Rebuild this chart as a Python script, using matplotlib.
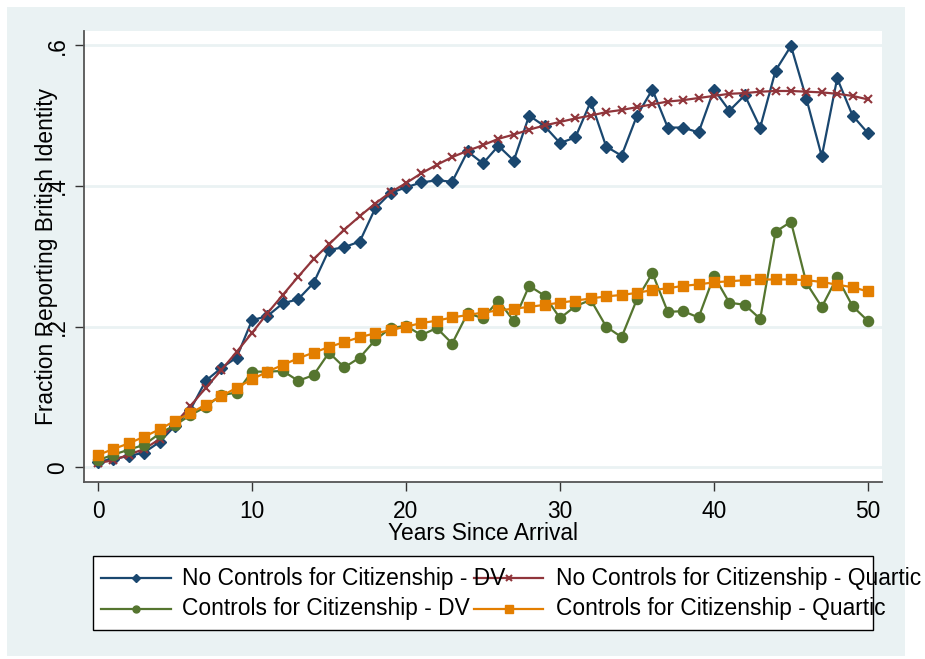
import numpy as np
import matplotlib
matplotlib.use("Agg")
import matplotlib.pyplot as plt
from matplotlib.patches import Rectangle
from matplotlib.lines import Line2D

plt.rcParams['font.family'] = ['Liberation Sans', 'DejaVu Sans']

years = list(range(0, 51))
xticks = [0, 10, 20, 30, 40, 50]
yticks = [0, 0.2, 0.4, 0.6]
ytick_labels = ["0", ".2", ".4", ".6"]

no_ctrl_dv = [0.008, 0.012, 0.016, 0.021, 0.036, 0.059, 0.082, 0.123, 0.141, 0.156,
              0.209, 0.215, 0.233, 0.239, 0.262, 0.309, 0.313, 0.321, 0.368, 0.390,
              0.398, 0.405, 0.408, 0.406, 0.449, 0.432, 0.457, 0.436, 0.500, 0.485,
              0.461, 0.469, 0.520, 0.456, 0.443, 0.500, 0.537, 0.483, 0.483, 0.476,
              0.537, 0.507, 0.529, 0.483, 0.564, 0.599, 0.524, 0.442, 0.553, 0.500,
              0.475]
no_ctrl_quartic = [0.006, 0.010, 0.018, 0.026, 0.040, 0.062, 0.087, 0.113, 0.138, 0.164,
                   0.191, 0.219, 0.245, 0.271, 0.296, 0.317, 0.338, 0.357, 0.375, 0.391,
                   0.404, 0.418, 0.430, 0.441, 0.450, 0.458, 0.467, 0.473, 0.480, 0.486,
                   0.491, 0.496, 0.500, 0.505, 0.508, 0.512, 0.516, 0.520, 0.522, 0.525,
                   0.528, 0.531, 0.532, 0.534, 0.535, 0.535, 0.534, 0.533, 0.531, 0.528,
                   0.523]
ctrl_dv = [0.010, 0.018, 0.025, 0.032, 0.048, 0.060, 0.074, 0.086, 0.103, 0.106,
           0.136, 0.136, 0.137, 0.123, 0.131, 0.163, 0.142, 0.156, 0.181, 0.198,
           0.201, 0.188, 0.198, 0.176, 0.219, 0.212, 0.237, 0.208, 0.258, 0.244,
           0.212, 0.229, 0.238, 0.200, 0.185, 0.239, 0.276, 0.221, 0.222, 0.213,
           0.272, 0.234, 0.231, 0.211, 0.335, 0.349, 0.262, 0.228, 0.270, 0.229,
           0.208]
ctrl_quartic = [0.0175, 0.026, 0.034, 0.0435, 0.054, 0.066, 0.077, 0.089, 0.101, 0.113,
                0.125, 0.136, 0.1455, 0.155, 0.163, 0.171, 0.178, 0.185, 0.1905, 0.195,
                0.200, 0.205, 0.2085, 0.213, 0.2165, 0.220, 0.223, 0.2255, 0.228, 0.231,
                0.234, 0.237, 0.240, 0.243, 0.245, 0.248, 0.252, 0.2545, 0.258, 0.260,
                0.263, 0.2645, 0.266, 0.267, 0.267, 0.267, 0.266, 0.2635, 0.2596, 0.256,
                0.250]

labels = ["No Controls for Citizenship - DV",
          "No Controls for Citizenship - Quartic",
          "Controls for Citizenship - DV",
          "Controls for Citizenship - Quartic"]

NAVY = "#1A476F"
MAROON = "#90353B"
GREEN = "#55752F"
ORANGE = "#E37E00"
BG = "#EAF2F3"

W, H = 925, 659
fig = plt.figure(figsize=(W / 100, H / 100), dpi=100, facecolor="white")

# outer graph region
fig.patches.append(Rectangle((7 / W, 1 - 656 / H), (905 - 7) / W, (656 - 7) / H,
                             transform=fig.transFigure, facecolor=BG, edgecolor="none",
                             zorder=-10))

ax_l, ax_r, ax_t, ax_b = 83.5, 882, 30.7, 482
ax = fig.add_axes([ax_l / W, 1 - ax_b / H, (ax_r - ax_l) / W, (ax_b - ax_t) / H])
ax.set_facecolor("white")

ax.set_xlim(-0.94, 50.91)
ax.set_ylim(-0.0209, 0.6207)

for yv in yticks:
    ax.axhline(yv, color=BG, lw=2.0, zorder=0.5)

lw = 1.6
ax.plot(years, no_ctrl_dv, color=NAVY, lw=lw, marker="D", ms=6.3, mec=NAVY, mfc=NAVY, zorder=3)
ax.plot(years, no_ctrl_quartic, color=MAROON, lw=lw, marker="x", ms=6, mew=1.5, mec=MAROON, zorder=3)
ax.plot(years, ctrl_dv, color=GREEN, lw=lw, marker="o", ms=7.3, mec=GREEN, mfc=GREEN, zorder=3)
ax.plot(years, ctrl_quartic, color=ORANGE, lw=lw, marker="s", ms=7.3, mec=ORANGE, mfc=ORANGE, zorder=3)

for s in ["top", "right"]:
    ax.spines[s].set_visible(False)
for s in ["left", "bottom"]:
    ax.spines[s].set_color("#555555")
    ax.spines[s].set_linewidth(1.3)

fs = 16.4
ax.set_xticks(xticks)
ax.set_xticklabels([str(v) for v in xticks], fontsize=fs)
ax.set_yticks(yticks)
ax.set_yticklabels(ytick_labels, fontsize=fs, rotation=90, va="center")
ax.tick_params(axis="both", direction="out", length=6.5, width=1.0, color="#333333")
ax.tick_params(axis="x", pad=6.5)
ax.tick_params(axis="y", pad=4.0)

ax.set_xlabel("Years Since Arrival", fontsize=fs)
ax.xaxis.set_label_coords(0.5, (ax_b - 533) / (ax_b - ax_t))
ax.xaxis.label.set_va("center")
ax.set_ylabel("Fraction Reporting British Identity", fontsize=fs)
ax.yaxis.set_label_coords((46 - ax_l) / (ax_r - ax_l), 0.5)
ax.yaxis.label.set_va("center")

# legend drawn manually (Stata-like layout with overlapping columns)
def fx(px):
    return px / W

def fy(py):
    return 1 - py / H

fig.patches.append(Rectangle((fx(92.5), fy(629.5)), (873 - 92.5) / W, (629.5 - 556) / H,
                             transform=fig.transFigure, facecolor="white", edgecolor="black",
                             lw=1.0, zorder=1))
entries = [
    (labels[0], NAVY, "D", 4.5, 101, 171, 182, 578),
    (labels[1], MAROON, "x", 5, 474, 543, 556, 578),
    (labels[2], GREEN, "o", 5, 101, 171, 182, 609),
    (labels[3], ORANGE, "s", 5.5, 474, 543, 556, 609),
]
for lab, col, mk, ms, hx0, hx1, tx, ty in entries:
    fig.add_artist(Line2D([fx(hx0), fx(hx1)], [fy(ty), fy(ty)], transform=fig.transFigure,
                          color=col, lw=lw, zorder=2))
    fig.add_artist(Line2D([fx((hx0 + hx1) / 2)], [fy(ty)], transform=fig.transFigure,
                          color=col, marker=mk, ms=ms, mew=1.5 if mk == "x" else 1.0,
                          mfc=col, mec=col, ls="none", zorder=2))
    fig.text(fx(tx), fy(ty), lab, fontsize=fs, va="center", ha="left", zorder=3)

fig.savefig("out.png", dpi=100, facecolor="white")
